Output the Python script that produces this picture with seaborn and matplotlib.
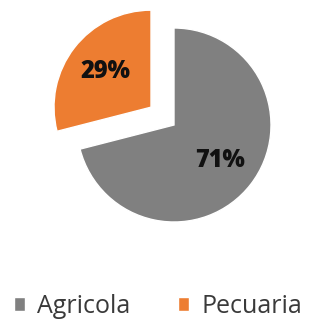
import matplotlib.pyplot as plt
import seaborn as sns

# datos del grafico
labels = ['Agricola', 'Pecuaria']
valores = [71, 29]
colores = ['#808080', '#ED7D31']
explode = [0, 0.3]

sns.set_theme(style='white')
plt.rcParams['font.family'] = ['Open Sans', 'DejaVu Sans']

fig = plt.figure(figsize=(3.16, 3.21), dpi=100)
ax = fig.add_axes([0, 0, 1, 1])

wedges, texts, autotexts = ax.pie(
    valores, labels=None, colors=colores, explode=explode,
    startangle=90, counterclock=False, autopct='%1.0f%%',
    pctdistance=0.6, radius=1.0,
    textprops={'fontsize': 17, 'fontweight': 'heavy', 'color': '#111111'},
)

# escala: 1 unidad = 97 px, centro en (174, 125) px
ax.set_xlim(-174 / 97, 142 / 97)
ax.set_ylim(-196 / 97, 125 / 97)
ax.set_aspect('auto')
ax.axis('off')

ax.legend(wedges, labels, loc='center', bbox_to_anchor=(0.5, 0.045),
          ncol=2, frameon=False, fontsize=18, handlelength=0.45,
          handleheight=0.45, handletextpad=0.5, columnspacing=1.9,
          labelcolor='#3a3a3a')

fig.savefig('out.png', dpi=100)
